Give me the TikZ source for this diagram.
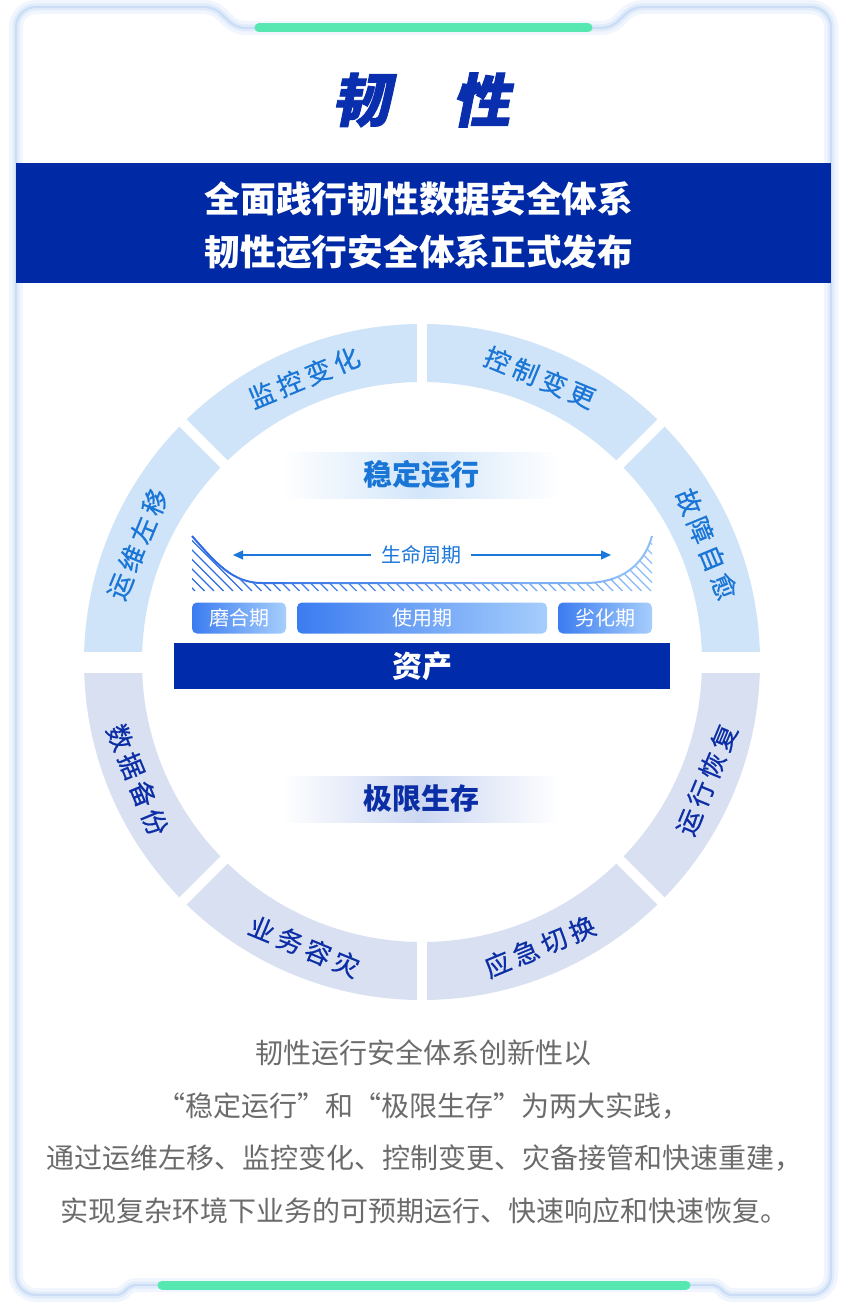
\documentclass[tikz,border=0pt]{standalone}
\usepackage{fontspec}
\setmainfont{Noto Sans CJK SC}
\newfontfamily\titlefont{Noto Sans CJK SC}[FakeSlant=0.2,FakeBold=1.5]
\newfontfamily\ringfont{Noto Sans CJK SC}[FakeBold=0.6]
\usetikzlibrary{arrows.meta}
\definecolor{bandblue}{HTML}{0029A6}
\definecolor{titleblue}{HTML}{0A2FAE}
\definecolor{segtop}{HTML}{CFE4F8}
\definecolor{segbot}{HTML}{D9E0F2}
\definecolor{txttop}{HTML}{1A76D6}
\definecolor{txtbot}{HTML}{0B2EA6}
\definecolor{stripA}{HTML}{D3E6FA}
\definecolor{stripB}{HTML}{CCD7F2}
\definecolor{phaseL}{HTML}{3B7CF0}
\definecolor{phaseR}{HTML}{A6CEFC}
\definecolor{lifeblue}{HTML}{1B78DA}
\definecolor{hatchA}{HTML}{2D6CE4}
\definecolor{hatchB}{HTML}{90C0F8}
\definecolor{mint}{HTML}{57E8B2}
\definecolor{glowA}{HTML}{F1F6FE}
\definecolor{glowB}{HTML}{E1ECFB}
\definecolor{edgeblue}{HTML}{CADCF6}
\definecolor{para}{HTML}{6B6B6B}
\definecolor{assetblue}{HTML}{002BAA}
\tikzset{
  ringtop/.style={text=txttop, font=\ringfont\fontsize{26}{26}\selectfont, inner sep=0pt},
  ringbot/.style={text=txtbot, font=\ringfont\fontsize{26}{26}\selectfont, inner sep=0pt},
  phasebox/.style={rounded corners=5pt, minimum height=31pt, inner sep=0pt, left color=phaseL, right color=phaseR, text=white, font=\fontsize{20}{20}\selectfont},
  strip/.style={minimum width=278pt, minimum height=46pt, inner sep=0pt, font=\bfseries\fontsize{29}{29}\selectfont},
  bandtext/.style={text=white, font=\bfseries\fontsize{35.7}{36}\selectfont, inner sep=0pt},
  paratext/.style={text=para, font=\fontsize{28}{28}\selectfont, inner sep=0pt},
  titletext/.style={text=titleblue, font=\titlefont\bfseries\fontsize{58}{58}\selectfont, inner sep=0pt},
  gapline/.style={white, line width=10pt},
  greenbar/.style={mint, line width=9pt, line cap=round},
}
\newcommand\gapsp{\hspace{4.5pt}}
\newcommand\ringtoplabel[3]{%
  \node[ringtop, rotate=#2-90] (#1) at ({422+308*cos(#2)},{662-308*sin(#2)}) {#3};}
\newcommand\ringbotlabel[3]{%
  \node[ringbot, rotate=#2+90] (#1) at ({422+308*cos(#2)},{662-308*sin(#2)}) {#3};}
\begin{document}
\begin{tikzpicture}[x=1pt,y=-1pt]
\useasboundingbox (0,0) rectangle (848,1311);
\fill[white] (0,0) rectangle (848,1311);
% card
\fill[white] (16,650) [rounded corners=20pt] -- (16,7) [rounded corners=9pt] -- (214,7) -- (236,28) -- (611,28) -- (633,7) [rounded corners=20pt] -- (831,7) -- (831,1295) [rounded corners=5pt] -- (727,1295) -- (717,1285) -- (131,1285) -- (121,1295) [rounded corners=20pt] -- (16,1295) -- (16,650);
\foreach \w/\c in {14/glowA, 7/glowB, 2.2/edgeblue} {
\draw[\c, line width=\w pt] (16,650) [rounded corners=20pt] -- (16,7) [rounded corners=9pt] -- (214,7) -- (236,28) -- (611,28) -- (633,7) [rounded corners=20pt] -- (831,7) -- (831,1295) [rounded corners=5pt] -- (727,1295) -- (717,1285) -- (131,1285) -- (121,1295) [rounded corners=20pt] -- (16,1295) -- (16,650);
}
% green bars
\coordinate (gt1) at (259,28); \coordinate (gt2) at (588,28);
\coordinate (gb1) at (162,1285); \coordinate (gb2) at (686,1285);
\draw[greenbar] (gt1) -- (gt2);
\draw[greenbar] (gb1) -- (gb2);
% title
\node[titletext] (t1) at (361,100) {韧};
\node[titletext] (t2) at (481,100) {性};
% band
\node[fill=bandblue, minimum width=815pt, minimum height=120pt, inner sep=0pt] (band) at (423.5,223) {};
\node[bandtext] (b1) at (419,199) {全面践行韧性数据安全体系};
\node[bandtext] (b2) at (419,252) {韧性运行安全体系正式发布};
% ring
\begin{scope}
\clip (0,0) rectangle (848,662);
\fill[segtop, even odd rule] (422,662) circle[radius=338] (422,662) circle[radius=280];
\end{scope}
\begin{scope}
\clip (0,662) rectangle (848,1311);
\fill[segbot, even odd rule] (422,662) circle[radius=338] (422,662) circle[radius=280];
\end{scope}
\foreach \a in {45,90,135} {
  \draw[gapline] ({422-350*cos(\a)},{662+350*sin(\a)}) -- ({422+350*cos(\a)},{662-350*sin(\a)});
}
\draw[gapline, line width=21pt] (70,662) -- (774,662);
\ringtoplabel{ra}{157.5}{运\gapsp 维\gapsp 左\gapsp 移}
\ringtoplabel{rb}{112.5}{监\gapsp 控\gapsp 变\gapsp 化}
\ringtoplabel{rc}{67.5}{控\gapsp 制\gapsp 变\gapsp 更}
\ringtoplabel{rd}{22.5}{故\gapsp 障\gapsp 自\gapsp 愈}
\ringbotlabel{re}{202.5}{数\gapsp 据\gapsp 备\gapsp 份}
\ringbotlabel{rf}{247.5}{业\gapsp 务\gapsp 容\gapsp 灾}
\ringbotlabel{rg}{292.5}{应\gapsp 急\gapsp 切\gapsp 换}
\ringbotlabel{rh}{337.5}{运\gapsp 行\gapsp 恢\gapsp 复}
% strips
\node[strip, left color=white, right color=white, middle color=stripA, text=txttop] (s1) at (421,475) {稳定运行};
\node[strip, left color=white, right color=white, middle color=stripB, text=txtbot] (s2) at (421,799) {极限生存};
% hatch
\begin{scope}
\clip (192,536) .. controls (215,562) and (232,583) .. (262,583) -- (585,583) .. controls (620,583) and (644,566) .. (652,536) -- (652,591) -- (192,591) -- cycle;
\foreach \x in {0,...,58} {
  \pgfmathsetmacro\xx{130+\x*9.5}
  \pgfmathtruncatemacro\pc{max(0,min(100,100-(\xx+30-192)/4.6))}
  \draw[hatchA!\pc!hatchB, line width=1.3pt] (\xx,526) -- ++(65,65);
}
\end{scope}
\foreach \k in {0,...,9} {
  \pgfmathtruncatemacro\pc{100-\k*11}
  \begin{scope}
  \clip ({190+\k*47},520) rectangle ({190+(\k+1)*47},600);
  \draw[hatchA!\pc!hatchB, line width=2pt] (192,536) .. controls (215,562) and (232,583) .. (262,583) -- (585,583) .. controls (620,583) and (644,566) .. (652,536);
  \end{scope}
}
% lifecycle arrow
\node[text=lifeblue, font=\fontsize{20}{20}\selectfont, inner xsep=10pt, inner ysep=0pt] (lc) at (421,555) {生命周期};
\coordinate (lcL) at (233,555);
\coordinate (lcR) at (611,555);
\draw[lifeblue, line width=1.2pt, -{Triangle[length=10pt,width=9pt]}] (lc.west) -- (lcL);
\draw[lifeblue, line width=1.2pt, -{Triangle[length=10pt,width=9pt]}] (lc.east) -- (lcR);
% phases
\node[phasebox, minimum width=94pt] (p1) at (239,618) {磨合期};
\node[phasebox, minimum width=250pt] (p2) at (422,618) {使用期};
\node[phasebox, minimum width=94pt] (p3) at (605,618) {劣化期};
% asset
\node[fill=assetblue, minimum width=496pt, minimum height=46pt, inner sep=0pt, text=white, font=\bfseries\fontsize{30}{30}\selectfont] (asset) at (422,666) {资产};
% paragraph
\node[paratext] (l1) at (423,1053) {韧性运行安全体系创新性以};
\node[paratext] (l2) at (423,1106) {“稳定运行”和“极限生存”为两大实践，};
\node[paratext] (l3) at (424,1158) {通过运维左移、监控变化、控制变更、灾备接管和快速重建，};
\node[paratext] (l4) at (424,1211) {实现复杂环境下业务的可预期运行、快速响应和快速恢复。};
\end{tikzpicture}
\end{document}
